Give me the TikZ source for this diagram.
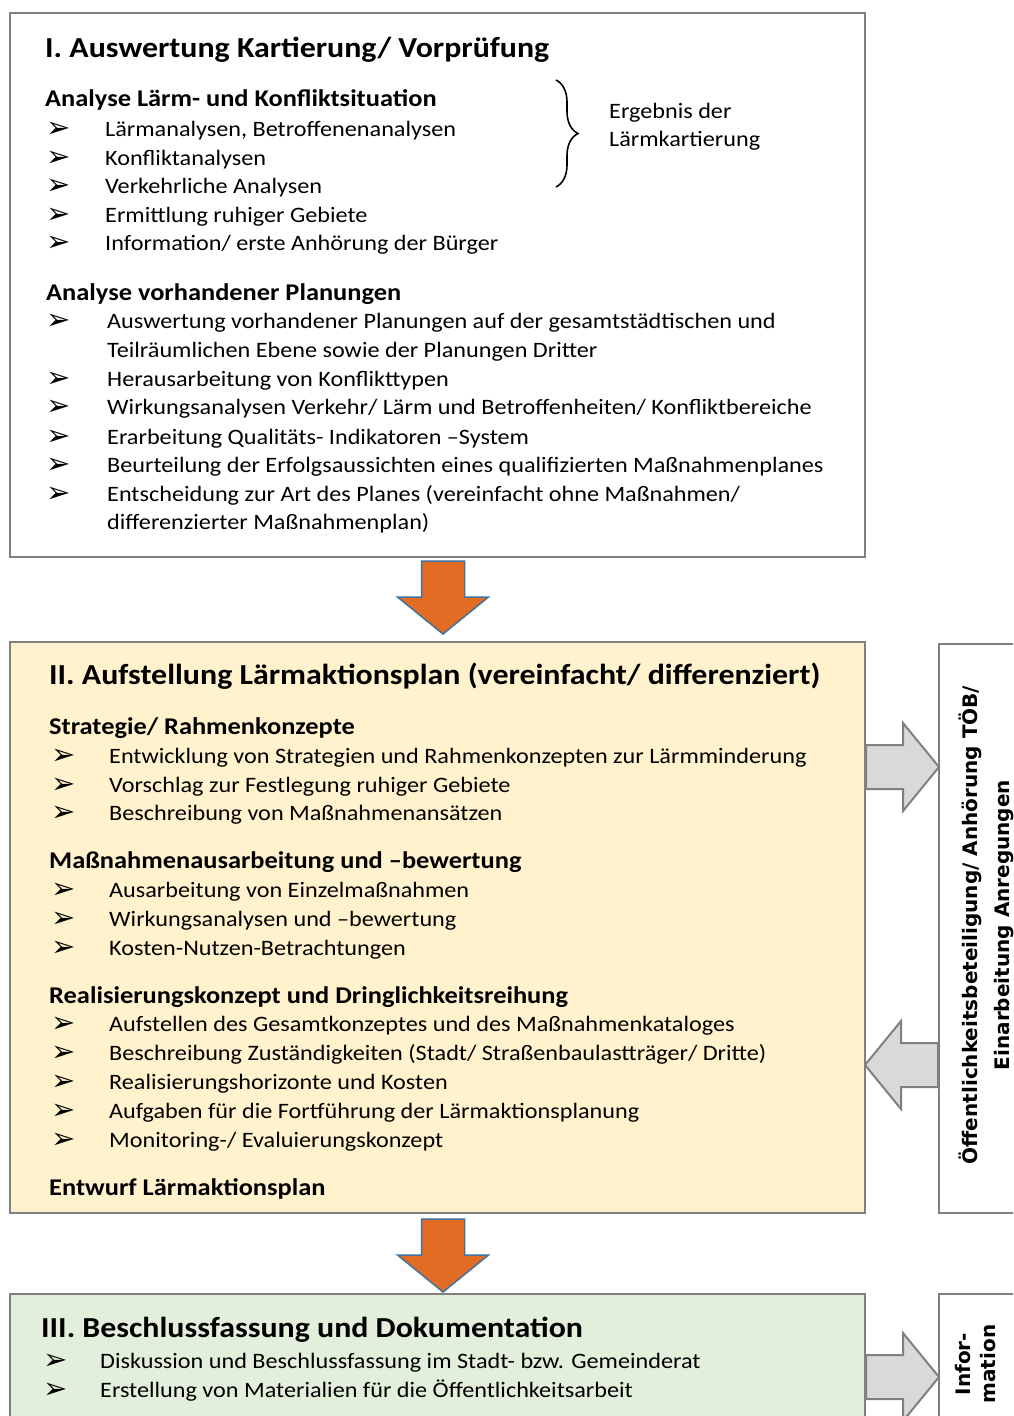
\documentclass[tikz,border=0pt]{standalone}
\usepackage{fontspec}
\setmainfont{Carlito}[FakeStretch=1.1]
\newfontfamily\symfont{DejaVu Sans}
\newfontfamily\sidefont{DejaVu Sans}
\usetikzlibrary{calc,decorations.pathreplacing}

\definecolor{framegray}{RGB}{128,128,128}
\definecolor{planyellow}{RGB}{255,242,204}
\definecolor{plangreen}{RGB}{226,239,218}
\definecolor{steporange}{RGB}{227,108,37}
\definecolor{stepblue}{RGB}{65,113,156}
\definecolor{sidegray}{RGB}{217,217,217}

\newcommand{\bul}[1][59]{\makebox[#1pt][l]{\raisebox{-1pt}{\fontsize{29}{29}\symfont ➢}}}

%% orange block arrow, #1 = top centre
\newcommand{\stepdown}[1]{%
  \begin{scope}[shift={#1}]
    \filldraw[orangearrow] (-21.5,0) -- (21.5,0) -- (21.5,36) -- (45.5,36) -- (0,73) -- (-45.5,36) -- (-21.5,36) -- cycle;
  \end{scope}}
%% grey block arrow, #1 = base centre, #2 = 1 (right) or -1 (left)
\newcommand{\sidearrow}[2]{%
  \begin{scope}[shift={#1},xscale=#2]
    \filldraw[grayarrow] (0,-22) -- (37,-22) -- (37,-44) -- (73,0) -- (37,44) -- (37,22) -- (0,22) -- cycle;
  \end{scope}}

\tikzset{
  stage/.style={draw=framegray,line width=2pt,anchor=north west,inner sep=0pt},
  title/.style={anchor=base west,inner sep=0pt,font=\fontsize{29}{32}\selectfont\bfseries},
  head/.style={anchor=base west,inner sep=0pt,font=\fontsize{24}{26}\selectfont\bfseries},
  item/.style={anchor=base west,inner sep=0pt,font=\fontsize{22}{24}\selectfont},
  sidetext/.style={rotate=90,align=center,inner sep=0pt,font=\fontsize{20}{32}\selectfont\sidefont\bfseries},
  orangearrow/.style={fill=steporange,draw=stepblue,line width=1.5pt},
  grayarrow/.style={fill=sidegray,draw=framegray,line width=2pt},
  bracestyle/.style={decorate,decoration={brace,amplitude=22pt},line width=1.6pt}
}

\begin{document}
\begin{tikzpicture}[x=1pt,y=-1pt]
        \clip (0,0) rectangle (1013,1416);
        \fill[white] (0,0) rectangle (1013,1416);
        %% boxes
        \node[stage,fill=white,minimum width=855,minimum height=544] (stageI) at (9,12) {};
        \node[stage,fill=planyellow,minimum width=855,minimum height=571] (stageII) at (9,641) {};
        \node[stage,fill=plangreen,minimum width=855,minimum height=140] (stageIII) at (9,1293) {};
        \node[stage,fill=white,minimum width=100,minimum height=569] (sideA) at (938,643) {};
        \node[stage,fill=white,minimum width=100,minimum height=140] (sideB) at (938,1293) {};
        %% stage I
        \node[title] (titleI) at (45,57) {I. Auswertung Kartierung/ Vorprüfung};
        \node[head] (headIa) at (45,106) {Analyse Lärm- und Konfliktsituation};
        \node[item] (itemIa1) at (46,136) {\bul Lärmanalysen, Betroffenenanalysen};
        \node[item] (itemIa2) at (46,165) {\bul Konfliktanalysen};
        \node[item] (itemIa3) at (46,193) {\bul Verkehrliche Analysen};
        \node[item] (itemIa4) at (46,222) {\bul Ermittlung ruhiger Gebiete};
        \node[item] (itemIa5) at (46,250) {\bul Information/ erste Anhörung der Bürger};
        \draw[bracestyle] (556,80) -- (556,187);
        \node[item] (resultA) at (609,118) {Ergebnis der};
        \node[item] (resultB) at (609,146) {Lärmkartierung};
        \node[head] (headIb) at (46,300) {Analyse vorhandener Planungen};
        \node[item] (itemIb1) at (46,328) {\bul[61]Auswertung vorhandener Planungen auf der gesamtstädtischen und};
        \node[item] (itemIb1x) at (107,357) {Teilräumlichen Ebene sowie der Planungen Dritter};
        \node[item] (itemIb2) at (46,386) {\bul[61]Herausarbeitung von Konflikttypen};
        \node[item] (itemIb3) at (46,414) {\bul[61]Wirkungsanalysen Verkehr/ Lärm und Betroffenheiten/ Konfliktbereiche};
        \node[item] (itemIb4) at (46,444) {\bul[61]Erarbeitung Qualitäts- Indikatoren –System};
        \node[item] (itemIb5) at (46,472) {\bul[61]Beurteilung der Erfolgsaussichten eines qualifizierten Maßnahmenplanes};
        \node[item] (itemIb6) at (46,501) {\bul[61]Entscheidung zur Art des Planes (vereinfacht ohne Maßnahmen/};
        \node[item] (itemIb6x) at (107,529) {differenzierter Maßnahmenplan)};
        %% stage II
        \node[title] (titleII) at (49,684) {II. Aufstellung Lärmaktionsplan (vereinfacht/ differenziert)};
        \node[head] (headIIa) at (49,734) {Strategie/ Rahmenkonzepte};
        \node[item] (itemIIa1) at (51,763) {\bul[58]Entwicklung von Strategien und Rahmenkonzepten zur Lärmminderung};
        \node[item] (itemIIa2) at (51,792) {\bul[58]Vorschlag zur Festlegung ruhiger Gebiete};
        \node[item] (itemIIa3) at (51,820) {\bul[58]Beschreibung von Maßnahmenansätzen};
        \node[head] (headIIb) at (49,868) {Maßnahmenausarbeitung und –bewertung};
        \node[item] (itemIIb1) at (51,897) {\bul[58]Ausarbeitung von Einzelmaßnahmen};
        \node[item] (itemIIb2) at (51,926) {\bul[58]Wirkungsanalysen und –bewertung};
        \node[item] (itemIIb3) at (51,955) {\bul[58]Kosten-Nutzen-Betrachtungen};
        \node[head] (headIIc) at (49,1003) {Realisierungskonzept und Dringlichkeitsreihung};
        \node[item] (itemIIc1) at (51,1031) {\bul[58]Aufstellen des Gesamtkonzeptes und des Maßnahmenkataloges};
        \node[item] (itemIIc2) at (51,1060) {\bul[58]Beschreibung Zuständigkeiten (Stadt/ Straßenbaulastträger/ Dritte)};
        \node[item] (itemIIc3) at (51,1089) {\bul[58]Realisierungshorizonte und Kosten};
        \node[item] (itemIIc4) at (51,1118) {\bul[58]Aufgaben für die Fortführung der Lärmaktionsplanung};
        \node[item] (itemIIc5) at (51,1147) {\bul[58]Monitoring-/ Evaluierungskonzept};
        \node[head] (headIId) at (49,1195) {Entwurf Lärmaktionsplan};
        %% stage III
        \node[title] (titleIII) at (41,1337) {III. Beschlussfassung und Dokumentation};
        \node[item] (itemIII1) at (43,1368) {\bul[57]Diskussion und Beschlussfassung im Stadt- bzw. Gemeinderat};
        \node[item] (itemIII2) at (43,1397) {\bul[57]Erstellung von Materialien für die Öffentlichkeitsarbeit};
        %% side boxes
        \node[sidetext] (sideAtext) at (986,925) {Öffentlichkeitsbeteiligung/ Anhörung TÖB/\\Einarbeitung Anregungen};
        \node[sidetext,font=\fontsize{20}{25}\selectfont\sidefont\bfseries] (sideBtext) at (976,1364) {Infor-\\mation};
        %% arrows
        \stepdown{($(stageI.south)+(5.5,3)$)}
        \stepdown{($(stageII.south)+(5.5,5)$)}
        \sidearrow{(stageII.east |- 0,767)}{1}
        \sidearrow{(sideA.west |- 0,1065)}{-1}
        \sidearrow{(stageIII.east |- 0,1377)}{1}
    \end{tikzpicture}
\end{document}
